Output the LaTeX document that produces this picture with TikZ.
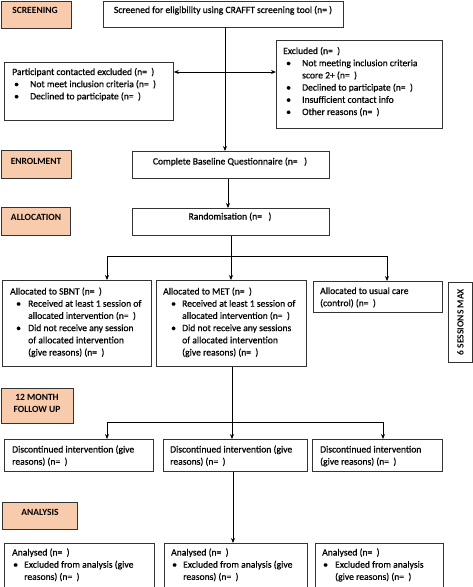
\documentclass[tikz,border=0pt]{standalone}
\usepackage{fontspec}
\setmainfont{Carlito}
\newfontfamily\bodyfont{Carlito}[FakeBold=0.6]
\usetikzlibrary{arrows.meta}
\definecolor{peach}{HTML}{F8CBAD}
\definecolor{edge}{HTML}{333333}
\newcommand\bu[2]{\hspace*{#1pt}\makebox[\dimexpr#2pt-#1pt\relax][l]{\textbullet}}
\newcommand\ltab[1]{\begin{tabular}[t]{@{}l@{}}#1\end{tabular}}
\newcommand\ctab[1]{\begin{tabular}[t]{@{}c@{}}#1\end{tabular}}
\tikzset{
  box/.style={draw=edge, line width=0.8pt, inner sep=0pt, anchor=north west},
  hdr/.style={box, fill=peach},
  txt/.style={inner sep=0pt, anchor=base west},
  ctxt/.style={inner sep=0pt, anchor=base},
  htxt/.style={inner sep=0pt, anchor=base, font=\fontsize{9.5}{12}\selectfont\bfseries},
  ln/.style={line width=0.8pt},
  arr/.style={ln, -{Stealth[length=5pt,width=4pt]}},
  darr/.style={ln, {Stealth[length=5pt,width=4pt]}-{Stealth[length=5pt,width=4pt]}}
}
\begin{document}
\begin{tikzpicture}[x=1pt, y=-1pt, font=\bodyfont\fontsize{9.6}{12.2}\selectfont]
\useasboundingbox (0,0) rectangle (473,587);
% ---- stage headers
\node[hdr, minimum width=70pt, minimum height=27pt] (hs) at (0.5,0.5) {};
\node[htxt] (hs-t) at (35,13) {\normalfont\fontsize{9.5}{12}\selectfont\bfseries SCREENING};
\node[hdr, minimum width=70pt, minimum height=28pt] (he) at (1,150) {};
\node[htxt] (he-t) at (36,164) {\normalfont\fontsize{9.5}{12}\selectfont\bfseries ENROLMENT};
\node[hdr, minimum width=69pt, minimum height=28pt] (ha) at (1,207) {};
\node[htxt] (ha-t) at (36,220) {\normalfont\fontsize{9.5}{12}\selectfont\bfseries ALLOCATION};
\node[hdr, minimum width=72pt, minimum height=35pt] (hf) at (1,388) {};
\node[htxt] (hf-t) at (37,400) {\normalfont\fontsize{9.5}{12}\selectfont\bfseries\ctab{12 MONTH\\FOLLOW UP}};
\node[hdr, minimum width=75pt, minimum height=27pt] (han) at (2,502) {};
\node[htxt] (han-t) at (40,515) {\normalfont\fontsize{9.5}{12}\selectfont\bfseries ANALYSIS};
% ---- boxes
\node[box, minimum width=240pt, minimum height=26pt] (screen) at (103,0.5) {};
\node[ctxt] (screen-t) at (223,13) {Screened for eligibility using CRAFFT screening tool (n=\ )};
\node[box, minimum width=169pt, minimum height=58pt] (part) at (4,62) {};
\node[txt] (part-t) at (12,75) {\ltab{Participant contacted excluded (n=\ \ )\\
 \bu{2}{18}Not meet inclusion criteria (n=\ \ )\\
 \bu{2}{18}Declined to participate (n=\ \ )}};
\node[box, minimum width=166pt, minimum height=88pt] (excl) at (276,40) {};
\node[txt] (excl-t) at (283,54) {\ltab{Excluded (n=\ \ )\\
 \bu{3}{19}Not meeting inclusion criteria\\
 \hspace*{19pt}score 2+ (n=\ \ )\\
 \bu{3}{19}Declined to participate (n=\ \ )\\
 \bu{3}{19}Insufficient contact info\\
 \bu{3}{19}Other reasons (n=\ \ )}};
\node[box, minimum width=197pt, minimum height=27pt] (base) at (132,151) {};
\node[ctxt] (base-t) at (230,164.5) {Complete Baseline Questionnaire (n=\ \ \ )};
\node[box, minimum width=197pt, minimum height=27pt] (rand) at (132,208) {};
\node[ctxt] (rand-t) at (230,219.5) {Randomisation (n=\ \ \ )};
\node[box, minimum width=149pt, minimum height=86pt] (sbnt) at (2,280) {};
\node[txt] (sbnt-t) at (10,294.5) {\ltab{Allocated to SBNT (n=\ \ )\\
 \bu{6}{18}Received at least 1 session of\\
 \hspace*{18pt}allocated intervention (n=\ \ )\\
 \bu{6}{18}Did not receive any session\\
 \hspace*{18pt}of allocated intervention\\
 \hspace*{18pt}(give reasons) (n=\ \ )}};
\node[box, minimum width=150pt, minimum height=86pt] (met) at (156,280) {};
\node[txt] (met-t) at (163,294.5) {\ltab{Allocated to MET (n=\ \ )\\
 \bu{8}{19}Received at least 1 session of\\
 \hspace*{19pt}allocated intervention (n=\ \ )\\
 \bu{8}{19}Did not receive any sessions\\
 \hspace*{19pt}of allocated intervention\\
 \hspace*{19pt}(give reasons) (n=\ \ )}};
\node[box, minimum width=129pt, minimum height=31pt] (usual) at (313,281) {};
\node[txt] (usual-t) at (320,294) {\ltab{Allocated to usual care\\(control) (n=\ \ )}};
\node[box, minimum width=24pt, minimum height=80pt] (six) at (448,282) {};
\node[inner sep=0pt, rotate=90, font=\normalfont\fontsize{9.5}{12}\selectfont\bfseries] (six-t) at (460.5,322) {6 SESSIONS MAX};
\node[box, minimum width=149pt, minimum height=32pt] (dl) at (4,439) {};
\node[txt] (dl-t) at (12,452.5) {\ltab{Discontinued intervention (give\\reasons) (n=\ \ )}};
\node[box, minimum width=144pt, minimum height=32pt] (dm) at (163,439) {};
\node[txt] (dm-t) at (170,452.5) {\ltab{Discontinued intervention (give\\reasons) (n=\ \ )}};
\node[box, minimum width=130pt, minimum height=32pt] (dr) at (312,439) {};
\node[txt] (dr-t) at (320,452.5) {\ltab{Discontinued intervention\\(give reasons) (n=\ \ )}};
\node[box, minimum width=150pt, minimum height=43.5pt] (al) at (4,543) {};
\node[txt] (al-t) at (12,555.5) {\ltab{Analysed (n=\ \ )\\
 \bu{1}{12}Excluded from analysis (give\\
 \hspace*{12pt}reasons) (n=\ \ )}};
\node[box, minimum width=143pt, minimum height=43.5pt] (am) at (164,543) {};
\node[txt] (am-t) at (171,555.5) {\ltab{Analysed (n=\ \ )\\
 \bu{1}{12}Excluded from analysis (give\\
 \hspace*{12pt}reasons) (n=\ \ )}};
\node[box, minimum width=128pt, minimum height=43.5pt] (ar) at (315,543) {};
\node[txt] (ar-t) at (322,555.5) {\ltab{Analysed (n=\ \ )\\
 \bu{1}{13}Excluded from analysis\\
 \hspace*{13pt}(give reasons) (n=\ \ )}};
% ---- connectors
\coordinate (j1) at (225,72);
\draw[arr] (screen.south -| j1) -- (base.north -| j1);
\draw[darr] (part.east |- j1) -- (excl.west |- j1);
\coordinate (j1b) at (228,0);
\draw[arr] (base.south -| j1b) -- (rand.north -| j1b);
\coordinate (j2) at (231,256);
\coordinate (j2l) at (107,256);
\coordinate (j2r) at (387,256);
\draw[ln] (rand.south -| j2) -- (j2);
\draw[ln] (j2l) -- (j2r);
\draw[arr] (j2l) -- (sbnt.north -| j2l);
\draw[arr] (j2) -- (met.north -| j2);
\draw[arr] (j2r) -- (usual.north -| j2r);
\coordinate (j3) at (232,422);
\coordinate (j3l) at (107,422);
\coordinate (j3r) at (383,422);
\draw[ln] (met.south -| j3) -- (j3);
\draw[ln] (j3l) -- (j3r);
\draw[arr] (j3l) -- (dl.north -| j3l);
\draw[arr] (j3) -- (dm.north -| j3);
\draw[arr] (j3r) -- (dr.north -| j3r);
\coordinate (j4) at (233,500);
\draw[arr] (dm.south -| j4) -- (am.north -| j4);
\end{tikzpicture}
\end{document}
